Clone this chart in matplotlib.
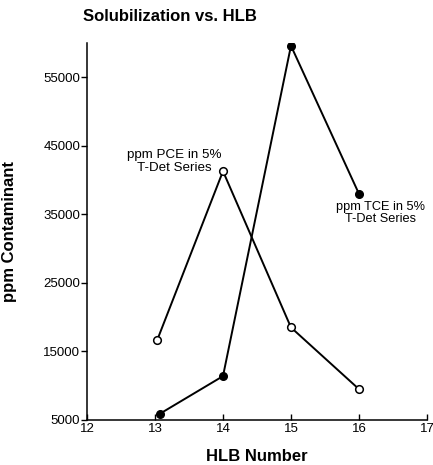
import matplotlib
matplotlib.use("Agg")
import matplotlib.pyplot as plt

plt.rcParams['font.family'] = ['Liberation Sans', 'DejaVu Sans']

hlb_pce = [13.03, 14.0, 15.0, 16.0]
ppm_pce = [16600, 41300, 18500, 9500]
hlb_tce = [13.07, 14.0, 15.0, 16.0]
ppm_tce = [5900, 11400, 59600, 38000]
xticks = [12, 13, 14, 15, 16, 17]
yticks = [5000, 15000, 25000, 35000, 45000, 55000]

fig = plt.figure(figsize=(4.33, 4.65), dpi=100)
ax = fig.add_axes([0.201, 0.0968, 0.785, 0.8107])

ax.plot(hlb_pce, ppm_pce, color='black', lw=1.4, marker='o', ms=5.5,
        mfc='white', mec='black', mew=1.1, zorder=3)
ax.plot(hlb_tce, ppm_tce, color='black', lw=1.4, marker='o', ms=5.5,
        mfc='black', mec='black', zorder=3)

ax.set_xlim(12, 17)
ax.set_ylim(5000, 60000)
ax.set_xticks(xticks)
ax.set_yticks(yticks)
ax.set_xticklabels([str(t) for t in xticks], fontsize=9.5)
ax.set_yticklabels([str(t) for t in yticks], fontsize=9.5)
ax.tick_params(axis='x', direction='in', length=4, width=1, pad=2)
ax.tick_params(axis='y', direction='out', length=4, width=1, pad=1)
for s in ['top', 'right']:
    ax.spines[s].set_visible(False)
for s in ['left', 'bottom']:
    ax.spines[s].set_linewidth(1.1)

ax.text(13.28, 42700, 'ppm PCE in 5%\nT-Det Series', ha='center', va='center',
        fontsize=9.6, linespacing=1.05)
ax.text(16.31, 35200, 'ppm TCE in 5%\nT-Det Series', ha='center', va='center',
        fontsize=9.2, linespacing=1.05)

ax.set_xlabel('HLB Number', fontsize=12, fontweight='bold', labelpad=10)
ax.set_ylabel('ppm Contaminant', fontsize=12, fontweight='bold', labelpad=14)
ax.yaxis.set_label_coords(-0.2055, 0.5)
fig.text(0.192, 0.9645, 'Solubilization vs. HLB', fontsize=12, fontweight='bold',
         ha='left', va='center')

fig.savefig('out.png', dpi=100)
